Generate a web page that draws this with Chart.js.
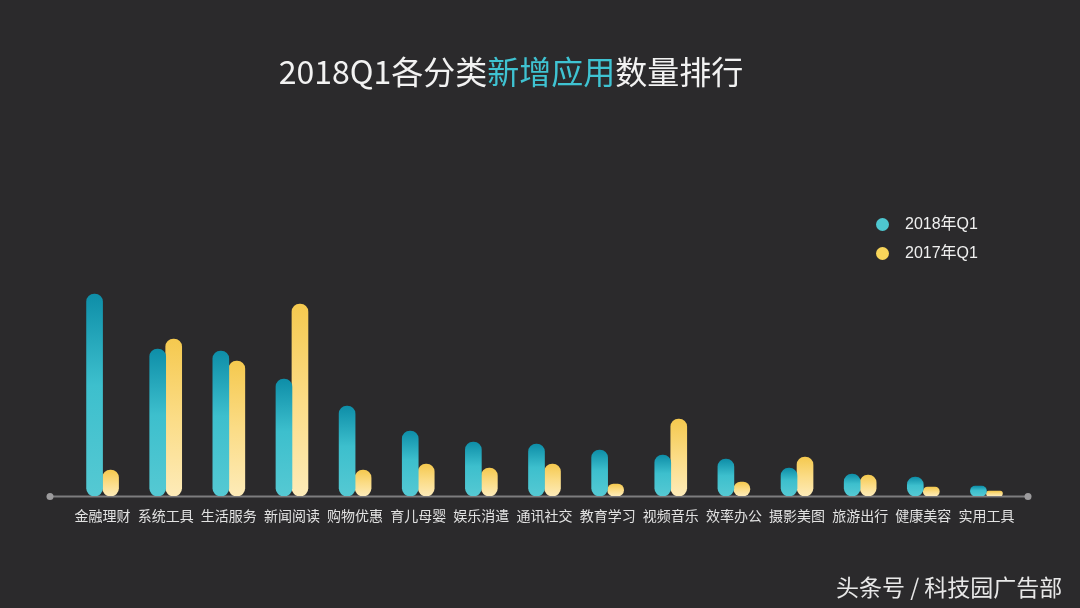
<!DOCTYPE html>
<html>
<head>
<meta charset="utf-8">
<script src="https://cdn.jsdelivr.net/npm/chart.js@4/dist/chart.umd.min.js"></script>
<style>
  html, body { margin: 0; padding: 0; background: #2b2a2c; }
  #wrap { position: relative; width: 1080px; height: 608px; background: #2b2a2c; overflow: hidden; }
  #c { position: absolute; left: 0; top: 0; }
  #title { position: absolute; left: 0; width: 1022px; top: 47px; text-align: center;
    font-family: "Noto Sans CJK SC", "Noto Sans", sans-serif; font-size: 32px; color: #f2f2f2; white-space: nowrap; }
  #title .hl { color: #3fc3d2; }
  #legend { position: absolute; left: 874px; top: 211px; font-family: "Liberation Sans", "Noto Sans CJK SC", sans-serif;
    font-size: 16px; color: #f0f0f0; }
  #legend .item { position: relative; height: 29px; line-height: 26px; }
  #legend .dot { position: absolute; left: 2px; top: 7px; width: 13px; height: 13px; border-radius: 50%; }
  #legend .txt { position: absolute; left: 31px; top: 0; white-space: nowrap; }
  #wm { position: absolute; left: 836px; top: 569px; font-family: "Noto Sans CJK SC", sans-serif; font-size: 23px;
    color: #e8e8e8; white-space: nowrap; }
</style>
</head>
<body>
<div id="wrap">
  <canvas id="c" width="1080" height="608"></canvas>
  <div id="title">2018Q1各分类<span class="hl">新增应用</span>数量排行</div>
  <div id="legend"></div>
  <div id="wm">头条号 / 科技园广告部</div>
</div>
<script>
const categories = ["金融理财","系统工具","生活服务","新闻阅读","购物优惠","育儿母婴","娱乐消遣","通讯社交","教育学习","视频音乐","效率办公","摄影美图","旅游出行","健康美容","实用工具"];
const series2018 = [202, 147, 145, 117, 90, 65, 54, 52, 46, 41, 37, 28, 22, 19, 10];
const series2017 = [26, 157, 135, 192, 26, 32, 28, 32, 12, 77, 14, 39, 21, 9, 5];
const seriesNames = ["2018年Q1", "2017年Q1"];
const legendColors = ["#4ec7d0", "#f8d55a"];

function gradFor(stops, solid) {
  return function (ctx) {
    const chart = ctx.chart;
    if (!chart.chartArea || ctx.type !== 'data') return solid;
    const y = chart.scales.y;
    const top = y.getPixelForValue(ctx.raw);
    const base = y.getPixelForValue(0);
    if (!isFinite(top) || !isFinite(base) || base - top < 1) return solid;
    const g = chart.ctx.createLinearGradient(0, top, 0, base);
    stops.forEach(s => g.addColorStop(s[0], s[1]));
    return g;
  };
}

const tealStops = [[0, "#0e8ea8"], [0.45, "#3dbfcd"], [1, "#55c9d3"]];
const yellowStops = [[0, "#f5c94f"], [0.5, "#fbdc86"], [1, "#fdebb8"]];

const axisLine = {
  id: 'axisLine',
  beforeDatasetsDraw(chart) {
    const c = chart.ctx;
    const y = chart.scales.y.getPixelForValue(0);
    c.save();
    c.strokeStyle = "#7d7c7e";
    c.lineWidth = 2;
    c.beginPath();
    c.moveTo(50, y + 0.5);
    c.lineTo(1028, y + 0.5);
    c.stroke();
    c.fillStyle = "#9c9b9d";
    [50, 1028].forEach(x => { c.beginPath(); c.arc(x, y + 0.5, 3.5, 0, Math.PI * 2); c.fill(); });
    c.restore();
  }
};

const chart = new Chart(document.getElementById('c'), {
  type: 'bar',
  data: {
    labels: categories,
    datasets: [
      { label: seriesNames[0], data: series2018, backgroundColor: gradFor(tealStops, "#3dbfcd"),
        borderRadius: 8, borderSkipped: false, barThickness: 16 },
      { label: seriesNames[1], data: series2017, backgroundColor: gradFor(yellowStops, "#fbdc86"),
        borderRadius: 8, borderSkipped: false, barThickness: 16 }
    ]
  },
  options: {
    responsive: false,
    animation: false,
    devicePixelRatio: 1,
    layout: { padding: { left: 71, right: 62, top: 146, bottom: 0 } },
    plugins: { legend: { display: false }, tooltip: { enabled: false }, title: { display: false } },
    scales: {
      x: {
        grid: { display: false, drawTicks: false },
        border: { display: false },
        ticks: { color: "#e2e2e2", padding: 11, maxRotation: 0, autoSkip: false,
          font: { family: "'Noto Sans CJK SC', sans-serif", size: 14 } },
        afterFit: s => { s.height = 112; }
      },
      y: {
        display: false,
        min: 0,
        max: 350
      }
    }
  },
  plugins: [axisLine]
});

const lg = document.getElementById('legend');
seriesNames.forEach((n, i) => {
  const it = document.createElement('div');
  it.className = 'item';
  it.innerHTML = '<span class="dot" style="background:' + legendColors[i] + '"></span><span class="txt">' + n + '</span>';
  lg.appendChild(it);
});
</script>
</body>
</html>
